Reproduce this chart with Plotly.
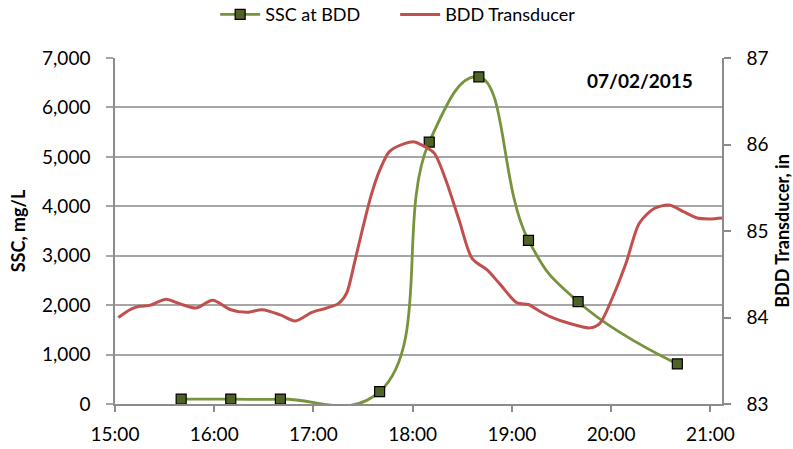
import plotly.graph_objects as go

# SSC samples (mg/L)
ssc_times = ["15:40", "16:10", "16:40", "17:40", "18:10", "18:40", "19:10", "19:40", "20:40"]
ssc_values = [100, 100, 100, 250, 5300, 6620, 3310, 2070, 810]

# transducer readings (in)
trans_times = ["15:02", "15:10", "15:15", "15:21", "15:26", "15:31", "15:39", "15:49", "15:59",
               "16:10", "16:20", "16:29", "16:40", "16:49", "16:59", "17:08", "17:15", "17:20",
               "17:25", "17:30", "17:35", "17:40", "17:46", "17:55", "18:01", "18:06", "18:13",
               "18:20", "18:28", "18:36", "18:45", "18:53", "19:03", "19:10", "19:17", "19:23",
               "19:35", "19:47", "19:53", "20:01", "20:09", "20:17", "20:26", "20:35", "20:44",
               "20:52", "21:00", "21:07"]
trans_values = [84.00, 84.10, 84.13, 84.14, 84.18, 84.21, 84.16, 84.11, 84.20,
                84.09, 84.06, 84.09, 84.03, 83.96, 84.06, 84.11, 84.16, 84.28,
                84.65, 85.05, 85.42, 85.70, 85.92, 86.01, 86.03, 85.99, 85.90,
                85.59, 85.13, 84.68, 84.55, 84.38, 84.17, 84.15, 84.07, 84.01,
                83.93, 83.88, 83.93, 84.24, 84.63, 85.09, 85.26, 85.30, 85.22,
                85.15, 85.14, 85.15]

hour_ticks = ["15:00", "16:00", "17:00", "18:00", "19:00", "20:00", "21:00"]
day = "2015-07-02 "

FONT = "Lato"
GRID = "#A6A6A6"
AXIS = "#8C8C8C"

fig = go.Figure()
fig.add_trace(go.Scatter(
    x=[day + t for t in ssc_times], y=ssc_values,
    name="SSC at BDD", mode="lines+markers",
    line=dict(color="#77933C", width=2.8, shape="spline", smoothing=1.3),
    marker=dict(symbol="square", size=10, color="#4F6228",
                line=dict(color="black", width=1.2)),
))
fig.add_trace(go.Scatter(
    x=[day + t for t in trans_times], y=trans_values,
    name="BDD Transducer", mode="lines", yaxis="y2",
    line=dict(color="#C0504D", width=3, shape="spline", smoothing=0.8),
))

fig.update_layout(
    width=793, height=449,
    margin=dict(l=115, r=71, t=58, b=45, autoexpand=False),
    plot_bgcolor="white", paper_bgcolor="white",
    font=dict(family=FONT, size=18, color="black"),
    legend=dict(orientation="h", x=0.165, xanchor="left", y=1.125, yanchor="middle",
                font=dict(size=18), itemwidth=40, entrywidth=125,
                traceorder="normal"),
    xaxis=dict(
        type="date", range=[day + "15:00", day + "21:07"],
        tickvals=[day + t for t in hour_ticks], ticktext=hour_ticks,
        showgrid=False, showline=True, linecolor=AXIS, linewidth=1.5,
        ticks="outside", ticklen=6, tickcolor=AXIS, tickwidth=1.5,
        tickfont=dict(size=19), ticklabelstandoff=6,
    ),
    yaxis=dict(
        range=[0, 7000], dtick=1000, tickformat=",d",
        showgrid=True, gridcolor=GRID, gridwidth=1.5,
        showline=True, linecolor=AXIS, linewidth=1.5,
        ticks="outside", ticklen=7, tickcolor=GRID, tickwidth=1.5,
        tickfont=dict(size=19), ticklabelstandoff=12,
        zeroline=False,
        title=dict(text="<b>SSC, mg/L</b>", font=dict(size=18), standoff=12),
    ),
    yaxis2=dict(
        overlaying="y", side="right", range=[83, 87], dtick=1,
        showgrid=False, showline=True, linecolor=AXIS, linewidth=1.5,
        ticks="outside", ticklen=7, tickcolor=AXIS, tickwidth=1.5,
        tickfont=dict(size=19), ticklabelstandoff=12, zeroline=False,
        title=dict(text="<b>BDD Transducer, in</b>", font=dict(size=18), standoff=11),
    ),
    annotations=[dict(text="<b>07/02/2015</b>", xref="paper", yref="paper",
                      x=0.956, y=0.936, xanchor="right", yanchor="middle",
                      showarrow=False, font=dict(size=19))],
)

# drop the browser's default 8px page margin so the chart sits at the window corner
fig.write_html("out.html", config={"displayModeBar": False},
               post_script="document.body.style.margin='0';")
